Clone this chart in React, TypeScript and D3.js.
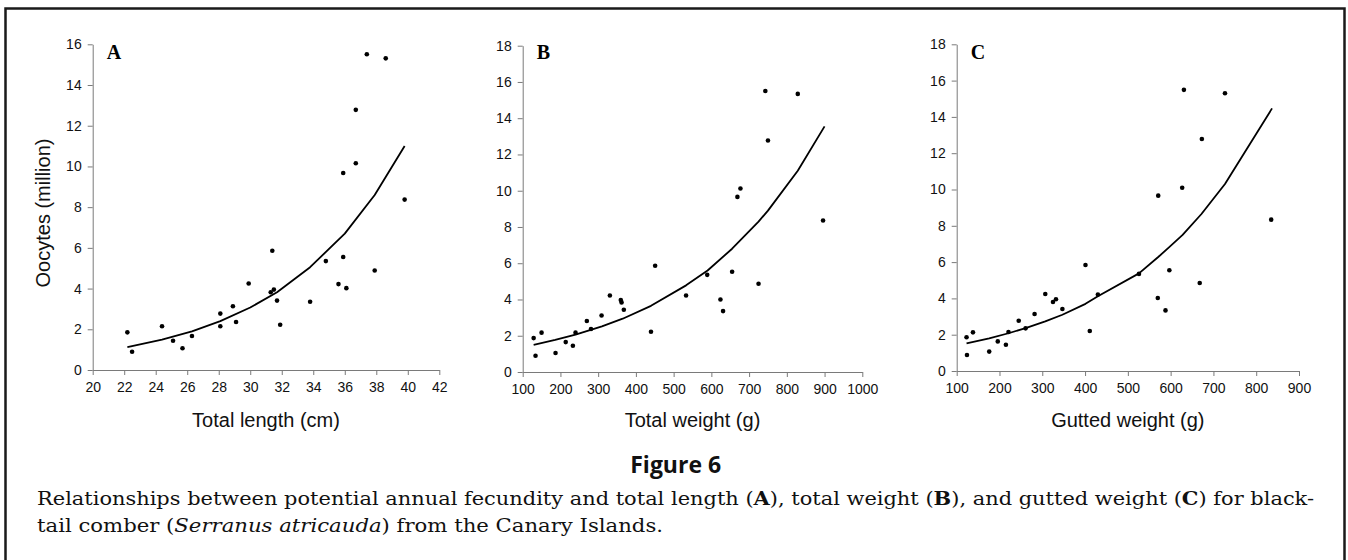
import React, { useEffect, useRef } from 'react';
import * as d3 from 'd3';

// panel A: fecundity vs total length
const aLength = [22.2, 22.5, 24.4, 25.1, 25.7, 26.3, 28.1, 28.1, 28.9, 29.1, 29.9, 31.3, 31.4, 31.5, 31.7, 31.9, 33.8, 34.8, 35.6, 35.9, 35.9, 36.1, 36.7, 36.7, 37.4, 37.9, 38.6, 39.8];
const aOocytes = [1.85, 0.9, 2.15, 1.44, 1.07, 1.67, 2.77, 2.15, 3.13, 2.36, 4.25, 3.82, 5.86, 3.95, 3.41, 2.22, 3.35, 5.35, 4.22, 9.68, 5.55, 4.02, 12.78, 10.16, 15.51, 4.89, 15.31, 8.37];
const aFitX = [22.2, 24.4, 26.3, 28.1, 30.0, 31.7, 33.8, 36.0, 37.9, 39.8];
const aFitY = [1.12, 1.49, 1.9, 2.4, 3.07, 3.82, 5.05, 6.7, 8.6, 11.0];
const aTicksX = [20, 22, 24, 26, 28, 30, 32, 34, 36, 38, 40, 42];
const aTicksY = [0, 2, 4, 6, 8, 10, 12, 14, 16];

// panel B: fecundity vs total weight
const bWeight = [129, 134, 150, 187, 214, 233, 240, 270, 281, 309, 331, 360, 362, 368, 440, 451, 533, 589, 624, 631, 655, 669, 677, 725, 743, 750, 829, 896];
const bOocytes = [1.87, 0.9, 2.17, 1.05, 1.65, 1.45, 2.17, 2.81, 2.37, 3.12, 4.22, 3.97, 3.84, 3.43, 2.22, 5.86, 4.22, 5.36, 4.0, 3.36, 5.53, 9.66, 10.12, 4.87, 15.5, 12.77, 15.34, 8.36];
const bFitX = [129, 186, 240, 310, 365, 440, 533, 590, 655, 725, 750, 829, 900];
const bFitY = [1.5, 1.77, 2.06, 2.52, 2.94, 3.65, 4.78, 5.6, 6.8, 8.3, 8.9, 11.1, 13.55];
const bTicksX = [100, 200, 300, 400, 500, 600, 700, 800, 900, 1000];
const bTicksY = [0, 2, 4, 6, 8, 10, 12, 14, 16, 18];

// panel C: fecundity vs gutted weight
const cWeight = [123, 124, 138, 176, 196, 215, 221, 245, 261, 282, 307, 325, 332, 347, 401, 411, 430, 526, 570, 571, 588, 597, 627, 631, 668, 673, 727, 835];
const cOocytes = [1.86, 0.88, 2.13, 1.07, 1.63, 1.45, 2.15, 2.77, 2.35, 3.14, 4.24, 3.8, 3.95, 3.42, 5.84, 2.2, 4.21, 5.35, 4.02, 9.66, 3.34, 5.55, 10.1, 15.49, 4.85, 12.78, 15.3, 8.34];
const cFitX = [123, 176, 221, 261, 307, 347, 401, 430, 526, 571, 598, 628, 672, 727, 837];
const cFitY = [1.52, 1.8, 2.08, 2.36, 2.73, 3.1, 3.7, 4.12, 5.38, 6.28, 6.85, 7.5, 8.65, 10.3, 14.47];
const cTicksX = [100, 200, 300, 400, 500, 600, 700, 800, 900];
const cTicksY = [0, 2, 4, 6, 8, 10, 12, 14, 16, 18];

const axisColor = '#7a7a7a';
const sans = 'Liberation Sans, Arial, sans-serif';

const panels = [
  { key: 'A', xs: aLength, ys: aOocytes, fx: aFitX, fy: aFitY, xTicks: aTicksX, yTicks: aTicksY,
    left: 92.7, right: 439.3, top: 44.3, bottom: 370, xLabel: 'Total length (cm)', yLabel: 'Oocytes (million)' },
  { key: 'B', xs: bWeight, ys: bOocytes, fx: bFitX, fy: bFitY, xTicks: bTicksX, yTicks: bTicksY,
    left: 522.7, right: 862.3, top: 45.7, bottom: 372, xLabel: 'Total weight (g)' },
  { key: 'C', xs: cWeight, ys: cOocytes, fx: cFitX, fy: cFitY, xTicks: cTicksX, yTicks: cTicksY,
    left: 956.7, right: 1299, top: 44.3, bottom: 371, xLabel: 'Gutted weight (g)' },
];

const Panel = ({ p }) => {
  const xRef = useRef(null);
  const yRef = useRef(null);
  const xTicks = p.xTicks;
  const yTicks = p.yTicks;
  const x = d3.scaleLinear().domain([xTicks[0], xTicks[xTicks.length - 1]]).range([p.left, p.right]);
  const y = d3.scaleLinear().domain([yTicks[0], yTicks[yTicks.length - 1]]).range([p.bottom, p.top]);

  useEffect(() => {
    const styleAxis = (g) => {
      g.attr('font-family', sans).attr('font-size', 14);
      g.select('.domain').attr('stroke', axisColor);
      g.selectAll('.tick line').attr('stroke', axisColor);
      g.selectAll('.tick text').attr('fill', '#111');
    };
    d3.select(xRef.current)
      .call(d3.axisBottom(x).tickValues(xTicks).tickFormat(d3.format('d')).tickSize(5).tickSizeOuter(0).tickPadding(7))
      .call(styleAxis);
    d3.select(yRef.current)
      .call(d3.axisLeft(y).tickValues(yTicks).tickFormat(d3.format('d')).tickSize(5).tickSizeOuter(0).tickPadding(6))
      .call(styleAxis);
  }, [p]);

  const line = d3
    .line()
    .x((d) => x(d[0]))
    .y((d) => y(d[1]));
  const fit = p.fx.map((v, i) => [v, p.fy[i]]);

  return (
    <g>
      <g ref={xRef} transform={`translate(0,${p.bottom})`} />
      <g ref={yRef} transform={`translate(${p.left},0)`} />
      <path d={line(fit)} fill="none" stroke="#000" strokeWidth={1.8} strokeLinejoin="round" />
      {p.xs.map((v, i) => (
        <circle key={i} cx={x(v)} cy={y(p.ys[i])} r={2.3} fill="#000" />
      ))}
      <text x={p.left + 14} y={58.5} fontFamily="Liberation Serif, Times New Roman, serif" fontWeight="bold" fontSize={20}>
        {p.key}
      </text>
      <text x={(p.left + p.right) / 2} y={427} textAnchor="middle" fontFamily={sans} fontSize={20} fill="#111">
        {p.xLabel}
      </text>
      {p.yLabel && (
        <text transform="translate(50,213) rotate(-90)" textAnchor="middle" fontFamily={sans} fontSize={20} fill="#111">
          {p.yLabel}
        </text>
      )}
    </g>
  );
};

const App = () => {
  const serif = 'DejaVu Serif, serif';
  return (
    <div style={{ position: 'fixed', left: 0, top: 0, background: '#fff' }}>
      <svg width={1348} height={560} style={{ display: 'block' }}>
        <rect x={0} y={0} width={1348} height={560} fill="#fff" />
        <rect x={5.5} y={8.5} width={1339} height={600} fill="none" stroke="#1a1a1a" strokeWidth={2.5} />
        {panels.map((p) => (
          <Panel key={p.key} p={p} />
        ))}
        <text x={675.7} y={473} textAnchor="middle" fontFamily="Open Sans, sans-serif" fontWeight="bold" fontSize={23} fill="#111">
          Figure 6
        </text>
        <text x={37} y={505} fontFamily={serif} fontSize={18.5} fill="#111" textLength={1277} lengthAdjust="spacingAndGlyphs">
          Relationships between potential annual fecundity and total length (<tspan fontWeight="bold">A</tspan>), total weight (
          <tspan fontWeight="bold">B</tspan>), and gutted weight (<tspan fontWeight="bold">C</tspan>) for black-
        </text>
        <text x={37} y={531.7} fontFamily={serif} fontSize={18.5} fill="#111" textLength={626} lengthAdjust="spacingAndGlyphs">
          tail comber (<tspan fontStyle="italic">Serranus atricauda</tspan>) from the Canary Islands.
        </text>
      </svg>
    </div>
  );
};

export default App;
